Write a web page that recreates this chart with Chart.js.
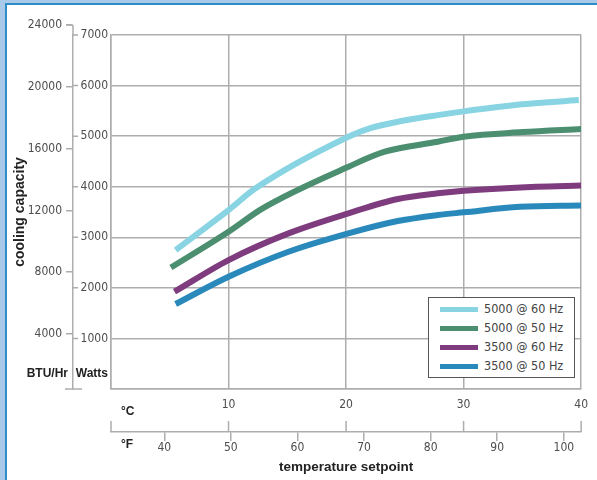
<!DOCTYPE html>
<html lang="en">
<head>
<meta charset="utf-8">
<title>Cooling capacity vs temperature setpoint</title>
<style>
html, body { margin: 0; background: #fff; overflow: hidden; }
.bar { position: absolute; }
#canvas { position: absolute; left: 7px; top: 5px; }
#legend {
    position: absolute; left: 428px; top: 297px; width: 147px; height: 81px;
    box-sizing: border-box; border: 1px solid #555; background: #fff;
    font: 12.5px 'DejaVu Sans Condensed', sans-serif; color: #444;
}
#legend .item { position: absolute; left: 11px; height: 19px; line-height: 19px; white-space: nowrap; }
#legend .swatch { display: inline-block; width: 38px; height: 5px; vertical-align: middle; margin-right: 6px; }
</style>
</head>
<body>
<div class="bar" style="left:0;top:0;width:5px;height:480px;background:#a9c9e8"></div>
<div class="bar" style="left:0;top:0;width:597px;height:3px;background:#a9c9e8"></div>
<div class="bar" style="left:5px;top:3px;width:2px;height:477px;background:#2e8dc6"></div>
<div class="bar" style="left:5px;top:3px;width:592px;height:2px;background:#2e8dc6"></div>
<canvas id="canvas" width="590" height="475"></canvas>
<div id="legend"></div>
<script src="https://cdn.jsdelivr.net/npm/chart.js"></script>
<script>

// series: temperature in degC, capacity in Watts
let SERIES_LABELS = ["5000 @ 60 Hz", "5000 @ 50 Hz", "3500 @ 60 Hz", "3500 @ 50 Hz"]
let SERIES_COLORS = ["#88d4e2", "#4b8e70", "#7e3b7e", "#2a89bb"]

let temp5000_60 = [5.5, 10, 12.3, 20.2, 22, 24.4, 27.8, 30, 35, 39.8]
let watts5000_60 = [2748, 3539, 3968, 4988, 5154, 5285, 5416, 5490, 5630, 5713]

let temp5000_50 = [5.1, 10, 12.9, 20.2, 23.3, 27.8, 30, 35, 40]
let watts5000_50 = [2402, 3110, 3573, 4395, 4692, 4889, 4988, 5080, 5140]

let temp3500_60 = [5.4, 10, 15.1, 20.2, 24.4, 27.8, 30, 36.2, 40]
let watts3500_60 = [1924, 2550, 3078, 3474, 3756, 3869, 3920, 4000, 4023]

let temp3500_50 = [5.5, 10, 15.1, 20.2, 24.4, 27.8, 30, 34.8, 40]
let watts3500_50 = [1680, 2220, 2714, 3078, 3321, 3440, 3493, 3604, 3628]

let TEMPS = [temp5000_60, temp5000_50, temp3500_60, temp3500_50]
let WATTS = [watts5000_60, watts5000_50, watts3500_60, watts3500_50]

// axis ticks
let btuTicks = [4000, 8000, 12000, 16000, 20000, 24000]
let fahrenheitTicks = [40, 50, 60, 70, 80, 90, 100]

let GRID = "#adadad"
let NARROW = "'DejaVu Sans Condensed', sans-serif"
let BOLD = "'Liberation Sans', Arial, sans-serif"

Chart.defaults.font.family = NARROW
Chart.defaults.font.size = 12
Chart.defaults.color = "#4d4d4d"

// little tick marks and unit labels that sit around the shared axis lines
let axisMarks = {
    id: "axisMarks",
    afterDraw(chart) {
        let {ctx, chartArea, scales} = chart
        let btu = scales.yBtu, w = scales.y, c = scales.x, f = scales.xF
        let ax = btu.right
        let topY = btu.getPixelForValue(btuTicks[btuTicks.length - 1])
        ctx.save()
        ctx.strokeStyle = GRID
        ctx.lineWidth = 1.5
        ctx.beginPath()
        ctx.moveTo(ax, topY); ctx.lineTo(ax, chartArea.top)
        ctx.moveTo(ax - 7, topY); ctx.lineTo(ax, topY)
        ctx.moveTo(ax - 8, chartArea.bottom); ctx.lineTo(ax + 9, chartArea.bottom)
        w.ticks.forEach(t => {
            if (t.value > 0) {
                let y = w.getPixelForValue(t.value)
                ctx.moveTo(ax, y); ctx.lineTo(ax + 5, y)
            }
        })
        c.ticks.forEach(t => {
            let x = c.getPixelForValue(t.value)
            ctx.moveTo(x, f.top - 11); ctx.lineTo(x, f.top)
        })
        ctx.stroke()

        ctx.fillStyle = "#222"
        ctx.font = "bold 12px " + BOLD
        ctx.textBaseline = "middle"
        ctx.textAlign = "right"
        ctx.fillText("BTU/Hr", ax - 5, chartArea.bottom - 15)
        ctx.fillText("Watts", w.right - 3, chartArea.bottom - 15)
        ctx.textAlign = "left"
        ctx.fillText("°C", chartArea.left + 10, c.top + 23)
        ctx.fillText("°F", chartArea.left + 10, f.top + 13)
        ctx.restore()
    }
}

let ctx = document.getElementById("canvas")

let chart = new Chart(ctx, {
    type: "line",
    data: {
        datasets: SERIES_LABELS.map((label, i) => ({
            label: label,
            data: TEMPS[i].map((t, j) => ({x: t, y: WATTS[i][j]})),
            borderColor: SERIES_COLORS[i],
            borderWidth: 6,
            borderCapStyle: "butt",
            pointRadius: 0,
            cubicInterpolationMode: "monotone",
            xAxisID: "x",
            yAxisID: "y",
        }))
    },
    options: {
        responsive: false,
        animation: false,
        layout: { padding: { left: 0, right: 12, top: 30, bottom: 0 } },
        plugins: {
            legend: { display: false },
            tooltip: { enabled: false },
        },
        scales: {
            x: {
                type: "linear",
                position: "bottom",
                weight: 0,
                min: 0,
                max: 40,
                ticks: {
                    stepSize: 10,
                    padding: 9,
                    maxRotation: 0,
                    callback: v => v === 0 ? "" : String(v),
                },
                grid: { color: GRID, lineWidth: 1.5, drawTicks: false },
                border: { color: GRID, width: 1.5 },
                afterFit: s => { s.height = 43 },
            },
            xF: {
                type: "linear",
                axis: "x",
                position: "bottom",
                weight: 1,
                min: 32,
                max: 102.6,
                afterBuildTicks: s => { s.ticks = fahrenheitTicks.map(v => ({value: v})) },
                ticks: {
                    padding: 0,
                    maxRotation: 0,
                    callback: v => String(v),
                },
                grid: { color: GRID, lineWidth: 1.5, drawOnChartArea: false, tickLength: 9 },
                border: { color: GRID, width: 1.5 },
                title: {
                    display: true,
                    text: "temperature setpoint",
                    color: "#222",
                    font: { family: BOLD, size: 13.5, weight: "bold" },
                    padding: { top: 0, bottom: 5 },
                },
                afterFit: s => { s.height = 48 },
            },
            y: {
                type: "linear",
                position: "left",
                weight: 0,
                min: 0,
                max: 7000,
                ticks: {
                    stepSize: 1000,
                    padding: 3,
                    callback: v => v === 0 ? "" : String(v),
                },
                grid: { color: GRID, lineWidth: 1.5, drawTicks: false },
                border: { color: GRID, width: 1.5 },
                afterFit: s => { s.width = 38 },
            },
            yBtu: {
                type: "linear",
                axis: "y",
                position: "left",
                weight: 1,
                min: 440,
                max: 23353,
                afterBuildTicks: s => { s.ticks = btuTicks.map(v => ({value: v})) },
                ticks: {
                    padding: 4,
                    autoSkip: false,
                    callback: v => String(v),
                },
                grid: { color: GRID, lineWidth: 1.5, drawOnChartArea: false, tickLength: 7 },
                border: { color: GRID, width: 1.5 },
                title: {
                    display: true,
                    text: "cooling capacity",
                    color: "#222",
                    font: { family: BOLD, size: 14, weight: "bold" },
                    padding: { top: 5, bottom: 0 },
                },
                afterFit: s => { s.width = 66 },
            },
        },
    },
    plugins: [axisMarks],
})

// legend box inside the plot, built from the datasets
let legend = document.getElementById("legend")
chart.data.datasets.forEach((ds, i) => {
    let item = document.createElement("div")
    item.className = "item"
    item.style.top = (1 + i * 19) + "px"
    let sw = document.createElement("span")
    sw.className = "swatch"
    sw.style.background = ds.borderColor
    item.appendChild(sw)
    item.appendChild(document.createTextNode(ds.label))
    legend.appendChild(item)
})

</script>
</body>
</html>
